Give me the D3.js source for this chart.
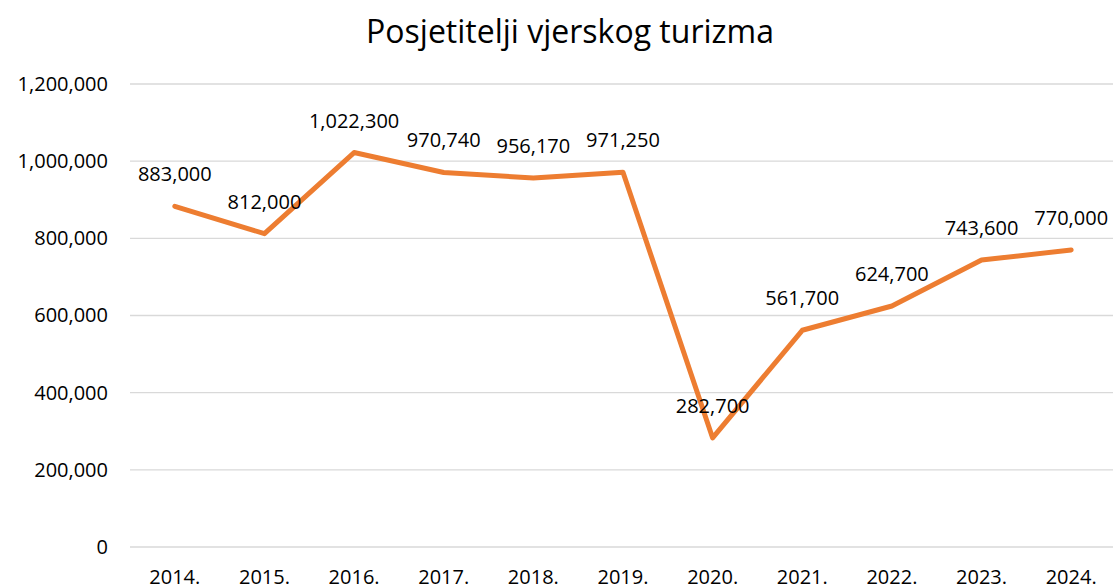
<!DOCTYPE html>
<html lang="hr">
<head>
<meta charset="utf-8">
<title>Posjetitelji vjerskog turizma</title>
<script src="https://d3js.org/d3.v7.min.js"></script>
<style>
  body { margin: 0; background: #fff; }
  text { font-family: 'Open Sans', 'Noto Sans', sans-serif; fill: #000; }
</style>
</head>
<body>
<div id="chart"></div>
<script>
// chart data
var years = ["2014.", "2015.", "2016.", "2017.", "2018.", "2019.", "2020.", "2021.", "2022.", "2023.", "2024."];
var visitors = [883000, 812000, 1022300, 970740, 956170, 971250, 282700, 561700, 624700, 743600, 770000];
var yTicks = [0, 200000, 400000, 600000, 800000, 1000000, 1200000];
var title = "Posjetitelji vjerskog turizma";

var w = 1113, h = 588;
var margin = {top: 84, right: -3, bottom: 41, left: 130};

var svg = d3.select("#chart").append("svg")
    .attr("width", w)
    .attr("height", h);

var x = d3.scaleBand()
    .domain(years)
    .range([margin.left, w - margin.right]);

var y = d3.scaleLinear()
    .domain([0, 1200000])
    .range([h - margin.bottom, margin.top]);

var fmt = d3.format(",");

// gridlines
svg.append("g")
    .selectAll("line")
    .data(yTicks)
    .enter()
    .append("line")
    .attr("x1", margin.left)
    .attr("x2", w - margin.right)
    .attr("y1", function(d) { return y(d); })
    .attr("y2", function(d) { return y(d); })
    .attr("stroke", "#d9d9d9")
    .attr("stroke-width", 1.3);

// y axis labels
var yAxis = svg.append("g")
    .attr("transform", "translate(" + margin.left + ",0)")
    .call(d3.axisLeft(y).tickValues(yTicks).tickFormat(fmt).tickSize(0).tickPadding(22));
yAxis.select(".domain").remove();
yAxis.selectAll("text")
    .style("font-size", "20px")
    .attr("fill", "#000");

// x axis labels
var xAxis = svg.append("g")
    .attr("transform", "translate(0," + (h - margin.bottom) + ")")
    .call(d3.axisBottom(x).tickSize(0).tickPadding(23));
xAxis.select(".domain").remove();
xAxis.selectAll("text")
    .style("font-size", "20px")
    .attr("fill", "#000");

// line
var line = d3.line()
    .x(function(d, i) { return x(years[i]) + x.bandwidth() / 2; })
    .y(function(d) { return y(d); });

svg.append("path")
    .datum(visitors)
    .attr("d", line)
    .attr("fill", "none")
    .attr("stroke", "#ED7D31")
    .attr("stroke-width", 5)
    .attr("stroke-linejoin", "round")
    .attr("stroke-linecap", "round");

// data labels
svg.append("g")
    .selectAll("text")
    .data(visitors)
    .enter()
    .append("text")
    .attr("x", function(d, i) { return x(years[i]) + x.bandwidth() / 2; })
    .attr("y", function(d) { return y(d) - 25; })
    .attr("text-anchor", "middle")
    .style("font-size", "20px")
    .text(function(d) { return fmt(d); });

// title
svg.append("text")
    .attr("x", 570)
    .attr("y", 43)
    .attr("text-anchor", "middle")
    .style("font-size", "32px")
    .text(title);
</script>
</body>
</html>
